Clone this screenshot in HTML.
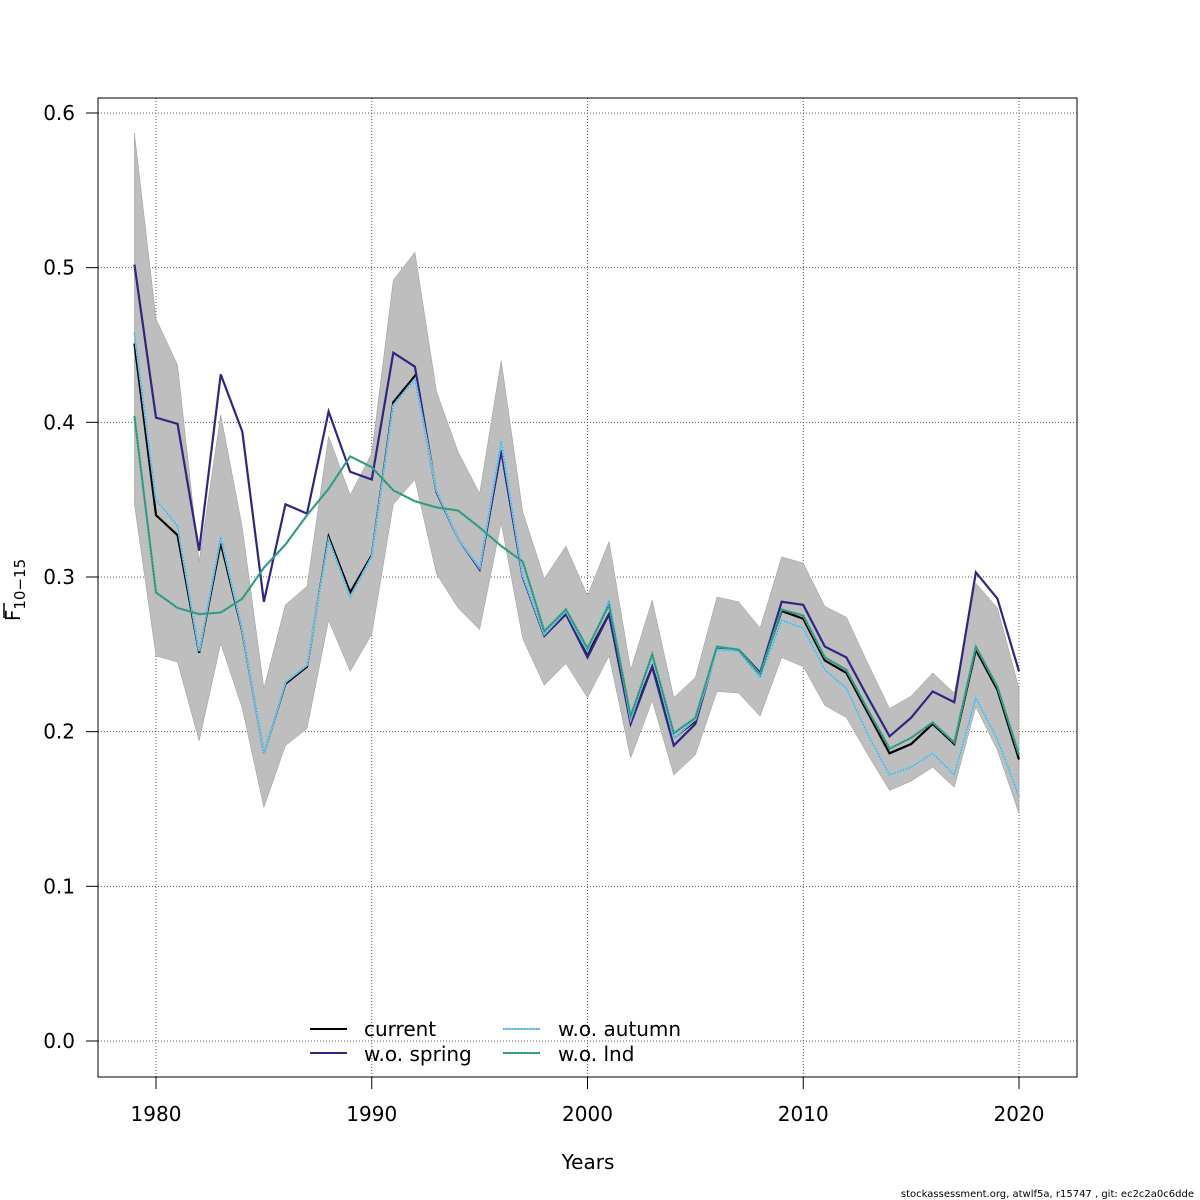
<!DOCTYPE html>
<html><head><meta charset="utf-8"><style>
html,body{margin:0;background:#fff;overflow:hidden;width:1200px;height:1200px;}
svg{display:block;}
svg text{font-family:"DejaVu Sans","Liberation Sans",sans-serif;}
</style></head><body>
<svg id="chart" width="1200" height="1200" xmlns="http://www.w3.org/2000/svg" style="position:absolute;left:0;top:0"></svg>
<script>
const years=[];for(let y=1979;y<=2020;y++)years.push(y);
const current=[0.451,0.340,0.327,0.251,0.322,0.265,0.186,0.231,0.242,0.326,0.290,0.314,0.413,0.430,0.355,0.325,0.305,0.382,0.300,0.262,0.276,0.250,0.276,0.207,0.242,0.196,0.207,0.254,0.253,0.238,0.278,0.273,0.246,0.238,0.212,0.186,0.192,0.205,0.192,0.253,0.227,0.182];
const spring=[0.502,0.403,0.399,0.317,0.431,0.394,0.284,0.347,0.341,0.407,0.368,0.363,0.445,0.436,0.355,0.325,0.305,0.382,0.300,0.262,0.276,0.248,0.276,0.205,0.242,0.191,0.205,0.254,0.253,0.238,0.284,0.282,0.255,0.248,0.222,0.197,0.209,0.226,0.219,0.303,0.286,0.239];
const autumn=[0.458,0.350,0.333,0.252,0.326,0.266,0.186,0.232,0.243,0.324,0.287,0.313,0.411,0.428,0.356,0.325,0.306,0.388,0.301,0.263,0.278,0.252,0.285,0.208,0.249,0.196,0.208,0.253,0.252,0.235,0.272,0.267,0.240,0.228,0.198,0.172,0.177,0.186,0.172,0.222,0.195,0.158];
const lnd=[0.404,0.290,0.280,0.276,0.277,0.286,0.306,0.321,0.340,0.357,0.378,0.371,0.356,0.349,0.345,0.343,0.332,0.320,0.310,0.265,0.279,0.254,0.282,0.210,0.250,0.199,0.209,0.255,0.253,0.237,0.279,0.275,0.248,0.240,0.214,0.189,0.196,0.206,0.193,0.255,0.229,0.185];
const upper=[0.587,0.467,0.437,0.310,0.405,0.332,0.228,0.282,0.294,0.391,0.353,0.380,0.492,0.510,0.420,0.381,0.354,0.440,0.342,0.299,0.320,0.288,0.323,0.240,0.285,0.222,0.235,0.287,0.284,0.267,0.313,0.309,0.281,0.274,0.244,0.215,0.223,0.238,0.225,0.296,0.280,0.228];
const lower=[0.347,0.249,0.245,0.194,0.257,0.215,0.151,0.191,0.202,0.272,0.239,0.263,0.347,0.363,0.302,0.280,0.266,0.335,0.260,0.230,0.244,0.222,0.249,0.183,0.220,0.172,0.185,0.226,0.225,0.210,0.248,0.242,0.217,0.209,0.185,0.162,0.168,0.177,0.164,0.216,0.188,0.147];
const xTicks=[1980,1990,2000,2010,2020];
const yTicks=[0.0,0.1,0.2,0.3,0.4,0.5,0.6];
const X=v=>156+(v-1980)*(863/40);
const Y=v=>1041-v*1546.67;
const svg=document.getElementById('chart');
const NS='http://www.w3.org/2000/svg';
function mk(t,a,p){const e=document.createElementNS(NS,t);for(const k in a)e.setAttribute(k,a[k]);(p||svg).appendChild(e);return e;}
xTicks.forEach(t=>{const l=mk('line',{x1:X(t),x2:X(t),y1:98,y2:1077,stroke:'#555','stroke-dasharray':'1,2','stroke-width':1});

});
yTicks.forEach(t=>{const l=mk('line',{x1:98,x2:1077,y1:Y(t),y2:Y(t),stroke:'#555','stroke-dasharray':'1,2','stroke-width':1});

});
let pts=years.map((y,i)=>X(y)+','+Y(upper[i])).concat(years.map((y,i)=>X(y)+','+Y(lower[i])).reverse());
const band=mk('polygon',{points:pts.join(' '),fill:'#bebebe',stroke:'#999','stroke-width':0.5});


function line(arr,color,name,dot){
 const p=years.map((y,i)=>X(y)+','+Y(arr[i])).join(' ');
 const l=mk('polyline',{points:p,fill:'none',stroke:color,'stroke-width':2.2});
 
 
 if(dot){const d=mk('polyline',{points:p,fill:'none',stroke:'#000','stroke-width':0.7,'stroke-opacity':0.45,'stroke-dasharray':'1,2'});
 
 }
}
line(current,'#000','current-line',false);
line(spring,'#2e2585','wo-spring-line',false);
line(autumn,'#7fcbee','wo-autumn-line',true);
line(lnd,'#3aa68f','wo-lnd-line',true);
const fr=mk('rect',{x:98,y:98,width:979,height:979,fill:'none',stroke:'#000','stroke-width':1});


xTicks.forEach(t=>{mk('line',{x1:X(t),x2:X(t),y1:1077,y2:1089,stroke:'#000'});
const tx=mk('text',{x:X(t),y:1121,'text-anchor':'middle','font-size':20});tx.textContent=t;

});
yTicks.forEach(t=>{mk('line',{x1:86,x2:98,y1:Y(t),y2:Y(t),stroke:'#000'});
const tx=mk('text',{x:75,y:Y(t)+7,'text-anchor':'end','font-size':20});tx.textContent=t.toFixed(1);

});
</script>
<svg style="position:absolute;left:0;top:0" width="1200" height="1200" xmlns="http://www.w3.org/2000/svg">
<text x="588" y="1169" text-anchor="middle" font-size="20">Years</text>
<text transform="translate(20,590) rotate(-90)" text-anchor="middle" font-size="20">F<tspan font-size="15" dy="5">10−15</tspan></text>
<line x1="4" y1="603" x2="4" y2="618" stroke="#000" stroke-width="1.5"/>
<g font-size="20">
<line x1="310" x2="347" y1="1029" y2="1029" stroke="#000" stroke-width="2"/>
<text x="364" y="1036">current</text>
<line x1="310" x2="347" y1="1053" y2="1053" stroke="#2e2585" stroke-width="2"/>
<text x="364" y="1061">w.o. spring</text>
<line x1="503" x2="540" y1="1029" y2="1029" stroke="#7fcbee" stroke-width="2"/>
<line x1="503" x2="540" y1="1029" y2="1029" stroke="#000" stroke-width="0.7" stroke-opacity="0.45" stroke-dasharray="1,2"/>
<text x="558" y="1036">w.o. autumn</text>
<line x1="503" x2="540" y1="1053" y2="1053" stroke="#3aa68f" stroke-width="2"/>
<line x1="503" x2="540" y1="1053" y2="1053" stroke="#000" stroke-width="0.7" stroke-opacity="0.45" stroke-dasharray="1,2"/>
<text x="558" y="1061">w.o. lnd</text>
</g>
<text x="1194" y="1197" text-anchor="end" font-size="10">stockassessment.org, atwlf5a, r15747 , git: ec2c2a0c6dde</text>
</svg>
</body></html>
